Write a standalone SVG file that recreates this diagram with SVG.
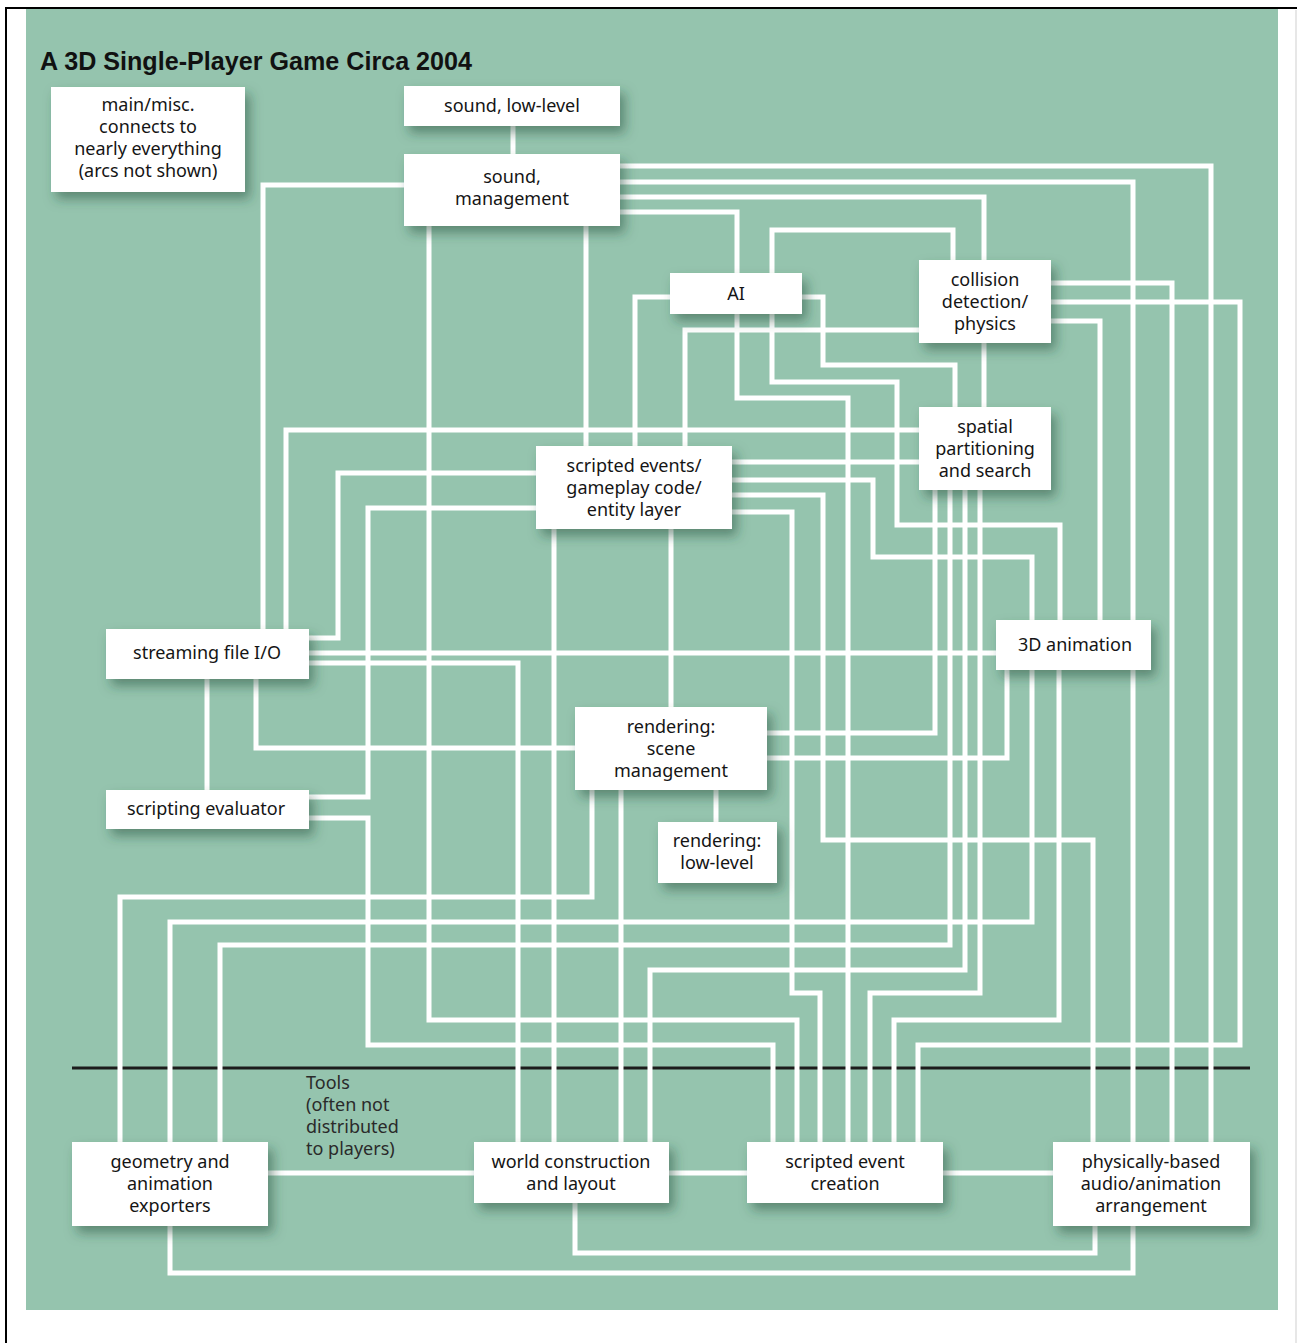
<svg xmlns="http://www.w3.org/2000/svg" width="1297" height="1343" viewBox="0 0 1297 1343">
<defs>
<filter id="sh" x="-20%" y="-30%" width="150%" height="180%">
<feDropShadow dx="5" dy="7" stdDeviation="6" flood-color="#1f4a37" flood-opacity="0.5"/>
</filter>
<style>
.c{fill:none;stroke:#fff;stroke-width:5;stroke-linejoin:miter}
.b{fill:#fff;filter:url(#sh)}
.t{font-family:"Noto Sans","DejaVu Sans",sans-serif;font-size:18px;fill:#151515;text-anchor:middle}
.tl{font-family:"Noto Sans","DejaVu Sans",sans-serif;font-size:18px;fill:#2a2a2a}
</style>
</defs>
<rect x="0" y="0" width="1297" height="1343" fill="#fff"/>
<rect x="26" y="9" width="1252" height="1301" fill="#95c4ae"/>
<path d="M6,1343 V8 H1297" fill="none" stroke="#000" stroke-width="2"/>
<line x1="1296" y1="10" x2="1296" y2="1343" stroke="#cfcfcf" stroke-width="1"/>
<text x="40" y="70" font-family="Liberation Sans,Arial,sans-serif" font-weight="bold" font-size="25" textLength="432" lengthAdjust="spacingAndGlyphs" fill="#111">A 3D Single-Player Game Circa 2004</text>
<line x1="72" y1="1068" x2="1250" y2="1068" stroke="#1c1c1c" stroke-width="3"/>
<g id="connectors">
<path class="c" d="M513,124 V156"/>
<path class="c" d="M406,185 H263 V631"/>
<path class="c" d="M429,224 V1020 H797 V1144"/>
<path class="c" d="M586,224 V448"/>
<path class="c" d="M618,166 H1211 V1144"/>
<path class="c" d="M618,182 H1133 V1144"/>
<path class="c" d="M618,197 H984 V262"/>
<path class="c" d="M618,212 H737 V276"/>
<path class="c" d="M672,297 H635 V448"/>
<path class="c" d="M800,297 H823 V365 H955 V409"/>
<path class="c" d="M953,262 V230 H772 V275"/>
<path class="c" d="M737,312 V398 H848 V1144"/>
<path class="c" d="M772,312 V382 H897 V525 H1060 V622"/>
<path class="c" d="M921,330 H685 V448"/>
<path class="c" d="M1049,283 H1172 V1144"/>
<path class="c" d="M1049,302 H1240 V1045 H918 V1144"/>
<path class="c" d="M1049,321 H1100 V622"/>
<path class="c" d="M984,341 V409"/>
<path class="c" d="M286,631 V430 H921"/>
<path class="c" d="M730,462 H921"/>
<path class="c" d="M935,488 V733 H765"/>
<path class="c" d="M950,488 V945 H220 V1144"/>
<path class="c" d="M965,488 V970 H650 V1144"/>
<path class="c" d="M980,488 V993 H870 V1144"/>
<path class="c" d="M730,480 H873 V557 H1032 V622"/>
<path class="c" d="M730,495 H823 V840 H1093 V1144"/>
<path class="c" d="M730,512 H792 V993 H820 V1144"/>
<path class="c" d="M554,527 V1144"/>
<path class="c" d="M671,527 V709"/>
<path class="c" d="M307,638 H338 V473 H538"/>
<path class="c" d="M307,797 H368 V508 H538"/>
<path class="c" d="M307,653 H998"/>
<path class="c" d="M307,663 H518 V1144"/>
<path class="c" d="M207,677 V792"/>
<path class="c" d="M256,677 V748 H577"/>
<path class="c" d="M1007,668 V758 H765"/>
<path class="c" d="M1032,668 V922 H170 V1144"/>
<path class="c" d="M1059,668 V1020 H894 V1144"/>
<path class="c" d="M716,788 V824"/>
<path class="c" d="M592,788 V897 H120 V1144"/>
<path class="c" d="M621,788 V1144"/>
<path class="c" d="M307,818 H368 V1045 H773 V1144"/>
<path class="c" d="M266,1173 H476"/>
<path class="c" d="M667,1173 H749"/>
<path class="c" d="M941,1173 H1055"/>
<path class="c" d="M575,1201 V1253 H1095 V1224"/>
<path class="c" d="M170,1224 V1273 H1133 V1224"/>
</g>
<g id="main-misc">
<rect class="b" x="51" y="87" width="194" height="105"/>
<text class="t" x="148" y="111">main/misc.</text>
<text class="t" x="148" y="133">connects to</text>
<text class="t" x="148" y="155">nearly everything</text>
<text class="t" x="148" y="177">(arcs not shown)</text>
</g>
<g id="sound-low-level">
<rect class="b" x="404" y="86" width="216" height="40"/>
<text class="t" x="512" y="112">sound, low-level</text>
</g>
<g id="sound-management">
<rect class="b" x="404" y="154" width="216" height="72"/>
<text class="t" x="512" y="183">sound,</text>
<text class="t" x="512" y="205">management</text>
</g>
<g id="ai">
<rect class="b" x="670" y="273" width="132" height="41"/>
<text class="t" x="736" y="300">AI</text>
</g>
<g id="collision">
<rect class="b" x="919" y="260" width="132" height="83"/>
<text class="t" x="985" y="286">collision</text>
<text class="t" x="985" y="308">detection/</text>
<text class="t" x="985" y="330">physics</text>
</g>
<g id="spatial">
<rect class="b" x="919" y="407" width="132" height="83"/>
<text class="t" x="985" y="433">spatial</text>
<text class="t" x="985" y="455">partitioning</text>
<text class="t" x="985" y="477">and search</text>
</g>
<g id="scripted-events">
<rect class="b" x="536" y="446" width="196" height="83"/>
<text class="t" x="634" y="472">scripted events/</text>
<text class="t" x="634" y="494">gameplay code/</text>
<text class="t" x="634" y="516">entity layer</text>
</g>
<g id="animation-3d">
<rect class="b" x="996" y="620" width="155" height="50"/>
<text class="t" x="1075" y="651">3D animation</text>
</g>
<g id="streaming">
<rect class="b" x="106" y="629" width="203" height="50"/>
<text class="t" x="207" y="659">streaming file I/O</text>
</g>
<g id="scene-management">
<rect class="b" x="575" y="707" width="192" height="83"/>
<text class="t" x="671" y="733">rendering:</text>
<text class="t" x="671" y="755">scene</text>
<text class="t" x="671" y="777">management</text>
</g>
<g id="rendering-low-level">
<rect class="b" x="658" y="822" width="119" height="61"/>
<text class="t" x="717" y="847">rendering:</text>
<text class="t" x="717" y="869">low-level</text>
</g>
<g id="scripting-evaluator">
<rect class="b" x="106" y="790" width="203" height="39"/>
<text class="t" x="206" y="815">scripting evaluator</text>
</g>
<g id="tools-label">
<text class="tl" x="306" y="1089">Tools</text>
<text class="tl" x="306" y="1111">(often not</text>
<text class="tl" x="306" y="1133">distributed</text>
<text class="tl" x="306" y="1155">to players)</text>
</g>
<g id="geometry-exporters">
<rect class="b" x="72" y="1142" width="196" height="84"/>
<text class="t" x="170" y="1168">geometry and</text>
<text class="t" x="170" y="1190">animation</text>
<text class="t" x="170" y="1212">exporters</text>
</g>
<g id="world-construction">
<rect class="b" x="474" y="1142" width="195" height="61"/>
<text class="t" x="571" y="1168">world construction</text>
<text class="t" x="571" y="1190">and layout</text>
</g>
<g id="scripted-event-creation">
<rect class="b" x="747" y="1142" width="196" height="61"/>
<text class="t" x="845" y="1168">scripted event</text>
<text class="t" x="845" y="1190">creation</text>
</g>
<g id="physically-based">
<rect class="b" x="1053" y="1142" width="197" height="84"/>
<text class="t" x="1151" y="1168">physically-based</text>
<text class="t" x="1151" y="1190">audio/animation</text>
<text class="t" x="1151" y="1212">arrangement</text>
</g>
</svg>
